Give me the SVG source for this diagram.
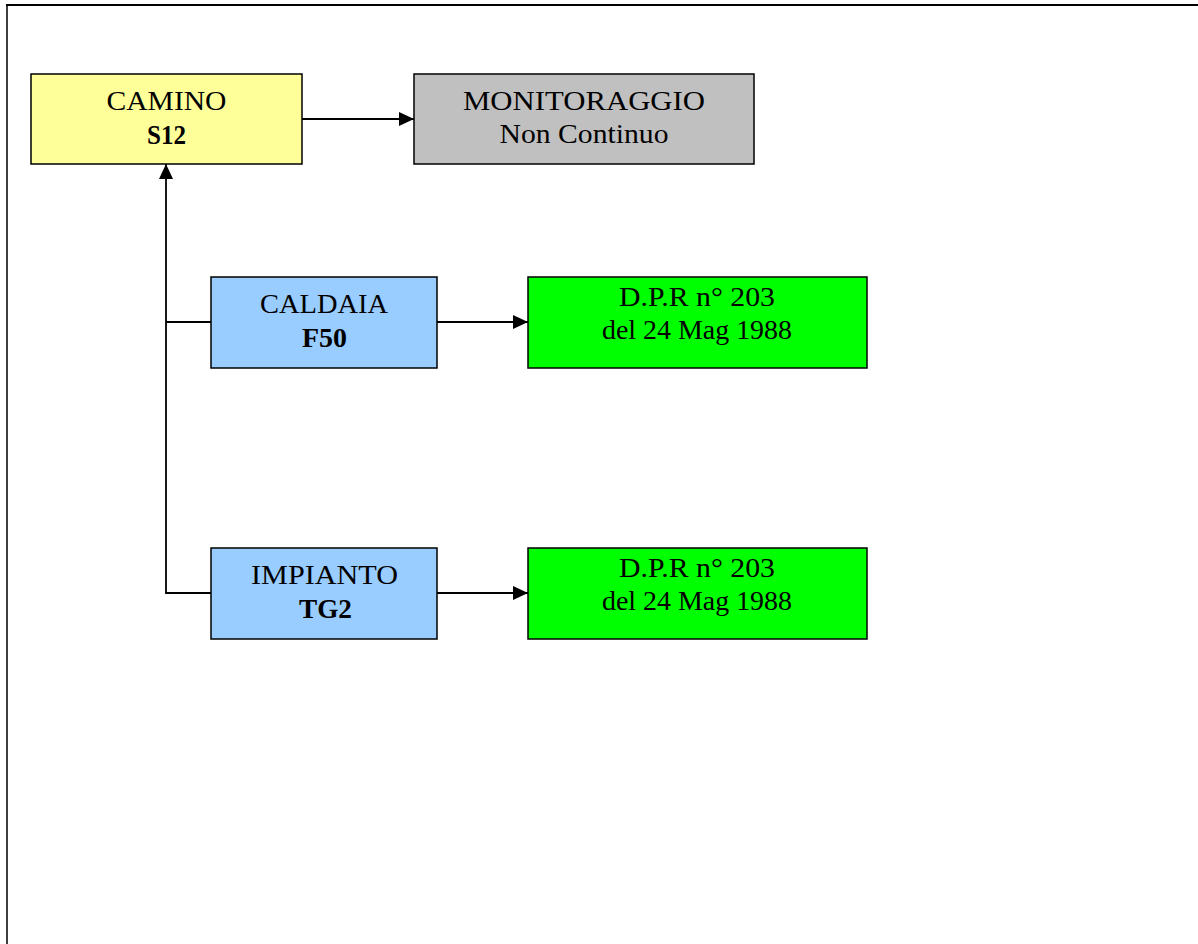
<svg xmlns="http://www.w3.org/2000/svg" width="1198" height="944" viewBox="0 0 1198 944">
<style>
.box{stroke:#000;stroke-width:1.5}
.t{font-family:"Liberation Serif","Times New Roman",serif;font-size:27px;fill:#000;text-anchor:middle}
.b{font-weight:bold}
.c{stroke:#000;stroke-width:1.8;fill:none}
</style>
<defs>
<marker id="ah" viewBox="0 0 15 14" refX="15" refY="7" markerWidth="15" markerHeight="14" markerUnits="userSpaceOnUse" orient="auto">
<path d="M0,0 L15,7 L0,14 z" fill="#000"/>
</marker>
</defs>
<rect width="1198" height="944" fill="#fff"/>
<g id="frame">
<line x1="6" y1="5" x2="1198" y2="5" stroke="#000" stroke-width="2"/>
<line x1="7" y1="4" x2="7" y2="944" stroke="#000" stroke-width="1.5"/>
</g>
<g id="connectors">
<line class="c" x1="302" y1="119" x2="414" y2="119" marker-end="url(#ah)"/>
<polyline class="c" points="211,593 166,593 166,164" marker-end="url(#ah)"/>
<line class="c" x1="166" y1="322" x2="211" y2="322"/>
<line class="c" x1="437" y1="322" x2="528" y2="322" marker-end="url(#ah)"/>
<line class="c" x1="437" y1="593" x2="528" y2="593" marker-end="url(#ah)"/>
</g>
<g id="camino">
<rect class="box" x="31" y="74" width="271" height="90" fill="#FFFF99"/>
<text class="t" x="166.5" y="110" textLength="120" lengthAdjust="spacingAndGlyphs">CAMINO</text>
<text class="t b" x="166.5" y="144" textLength="39" lengthAdjust="spacingAndGlyphs">S12</text>
</g>
<g id="monitoraggio">
<rect class="box" x="414" y="74" width="340" height="90" fill="#C0C0C0"/>
<text class="t" x="584" y="110" textLength="242" lengthAdjust="spacingAndGlyphs">MONITORAGGIO</text>
<text class="t" x="584" y="143" textLength="169" lengthAdjust="spacingAndGlyphs">Non Continuo</text>
</g>
<g id="caldaia">
<rect class="box" x="211" y="277" width="226" height="91" fill="#99CCFF"/>
<text class="t" x="324" y="313" textLength="128" lengthAdjust="spacingAndGlyphs">CALDAIA</text>
<text class="t b" x="324.5" y="347" textLength="45" lengthAdjust="spacingAndGlyphs">F50</text>
</g>
<g id="dpr1">
<rect class="box" x="528" y="277" width="339" height="91" fill="#00FF00"/>
<text class="t" x="697" y="306" textLength="156" lengthAdjust="spacingAndGlyphs">D.P.R n° 203</text>
<text class="t" x="697" y="339" textLength="190" lengthAdjust="spacingAndGlyphs">del 24 Mag 1988</text>
</g>
<g id="impianto">
<rect class="box" x="211" y="548" width="226" height="91" fill="#99CCFF"/>
<text class="t" x="324.5" y="584" textLength="147" lengthAdjust="spacingAndGlyphs">IMPIANTO</text>
<text class="t b" x="325.5" y="618" textLength="53" lengthAdjust="spacingAndGlyphs">TG2</text>
</g>
<g id="dpr2">
<rect class="box" x="528" y="548" width="339" height="91" fill="#00FF00"/>
<text class="t" x="697" y="577" textLength="156" lengthAdjust="spacingAndGlyphs">D.P.R n° 203</text>
<text class="t" x="697" y="610" textLength="190" lengthAdjust="spacingAndGlyphs">del 24 Mag 1988</text>
</g>
</svg>
